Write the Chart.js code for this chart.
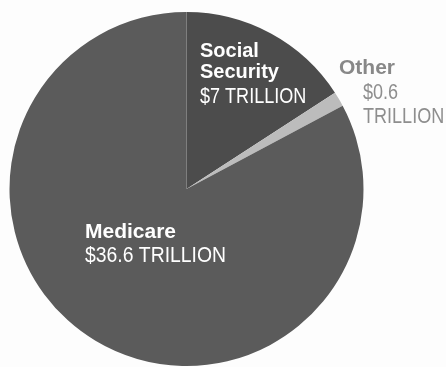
<!DOCTYPE html>
<html>
<head>
<meta charset="utf-8">
<script src="https://cdn.jsdelivr.net/npm/chart.js@4/dist/chart.umd.min.js"></script>
<style>
  html, body { margin: 0; padding: 0; background: #fdfdfd; }
  #wrap { width: 446px; height: 367px; position: relative; }
</style>
</head>
<body>
<div id="wrap"><canvas id="pieChart" width="446" height="367"></canvas></div>
<script>
// Data (trillions of dollars)
const categories = ['Social Security', 'Other', 'Medicare'];
const values = [7, 0.6, 36.6];
const valueLabels = ['$7 TRILLION', '$0.6 TRILLION', '$36.6 TRILLION'];
const sliceColors = ['#4c4c4c', '#bcbcbc', '#5b5b5b'];

const boldFace = '"Liberation Sans", Arial, sans-serif';

// condensed text: squeeze Liberation Sans horizontally
function narrowText(ctx, text, x, y, size, squeeze) {
  ctx.save();
  ctx.translate(x, y);
  ctx.scale(squeeze, 1);
  ctx.font = size + 'px ' + boldFace;
  ctx.fillText(text, 0, 0);
  ctx.restore();
}

// Labels drawn on top of the pie
const pieLabels = {
  id: 'pieLabels',
  afterDraw(chart) {
    const ctx = chart.ctx;
    ctx.save();
    ctx.textBaseline = 'alphabetic';
    ctx.textAlign = 'left';

    // Social Security (inside, white)
    ctx.fillStyle = '#ffffff';
    ctx.font = 'bold 20px ' + boldFace;
    ctx.fillText('Social', 200, 57);
    ctx.fillText('Security', 200, 78);
    narrowText(ctx, valueLabels[0], 200, 103, 22, 0.82);

    // Medicare (inside, white)
    ctx.font = 'bold 21px ' + boldFace;
    ctx.fillText(categories[2], 85, 238);
    narrowText(ctx, valueLabels[2], 85, 262, 22, 0.88);

    // Other (outside, gray)
    ctx.fillStyle = '#888888';
    ctx.font = 'bold 21px ' + boldFace;
    ctx.fillText(categories[1], 339, 74);
    ctx.fillStyle = '#8e8e8e';
    const parts = valueLabels[1].split(' ');
    narrowText(ctx, parts[0], 363, 99, 22, 0.82);
    narrowText(ctx, parts[1], 363, 123, 22, 0.82);

    ctx.restore();
  }
};

new Chart(document.getElementById('pieChart'), {
  type: 'pie',
  data: {
    labels: categories,
    datasets: [{
      data: values,
      backgroundColor: sliceColors,
      borderWidth: 0
    }]
  },
  options: {
    responsive: false,
    animation: false,
    layout: { padding: { left: 9, right: 82, top: 12, bottom: 1 } },
    plugins: {
      legend: { display: false },
      tooltip: { enabled: false }
    }
  },
  plugins: [pieLabels]
});
</script>
</body>
</html>
